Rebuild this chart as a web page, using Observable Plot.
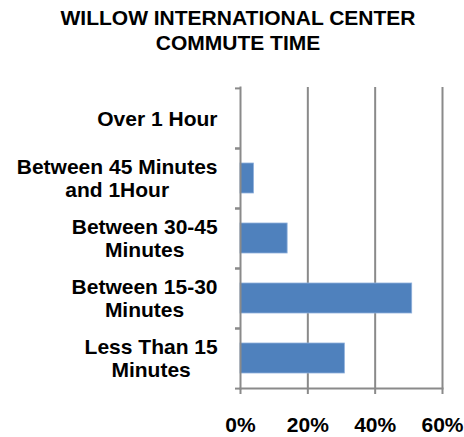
<!DOCTYPE html>
<html><head><meta charset="utf-8">
<script src="https://cdn.jsdelivr.net/npm/d3@7"></script>
<script src="https://cdn.jsdelivr.net/npm/@observablehq/plot@0.6"></script>
<style>
body{margin:0;background:#fff;font-family:"Liberation Sans",Arial,sans-serif;}
#title{height:60px;box-sizing:border-box;padding-top:5px;padding-left:12px;text-align:center;font-size:21px;font-weight:bold;line-height:25px;color:#000;}
#chart svg{display:block;}
</style></head><body>
<div id="title">WILLOW INTERNATIONAL CENTER<br>COMMUTE TIME</div>
<div id="chart"></div>
<script>
const categories = ["Over 1 Hour","Between 45 Minutes and 1Hour","Between 30-45 Minutes","Between 15-30 Minutes","Less Than 15 Minutes"];
const categoryLabels = ["Over 1 Hour","Between 45 Minutes\nand 1Hour","Between 30-45\nMinutes","Between 15-30\nMinutes","Less Than 15\nMinutes"];
const shares = [0,4,14,51,31];
const xTicks = [0,20,40,60];
const xTickLabels = ["0%","20%","40%","60%"];

const data = categories.map((c,i)=>({cat:c, value:shares[i]}));
const W = 464, H = 377, mT = 27, mB = 49, mL = 240, mR = 22;
const halfStep = (H - mT - mB) / categories.length / 2;
const gray = "#8a8a8a";
const font = {fontSize: 21, fontWeight: "bold", fill: "#000"};

const chart = Plot.plot({
  width: W, height: H,
  marginTop: mT, marginBottom: mB, marginLeft: mL, marginRight: mR,
  style: {fontFamily: '"Liberation Sans", Arial, sans-serif', background: "#fff"},
  x: {domain: [0, 60], label: null},
  y: {domain: categories, paddingInner: 0.5, paddingOuter: 0.25, label: null},
  marks: [
    Plot.gridX(xTicks.slice(1), {stroke: gray, strokeOpacity: 1, strokeWidth: 2}),
    Plot.barX(data, {x: "value", y: "cat", fill: "#4F81BD", stroke: "#8eb0db", strokeWidth: 0.8}),
    Plot.frame({anchor: "left", stroke: gray, strokeWidth: 2}),
    Plot.frame({anchor: "bottom", stroke: gray, strokeWidth: 2}),
    Plot.axisY({tickSize: 5, dy: -halfStep, text: null, label: null, stroke: gray, strokeWidth: 2}),
    Plot.axisY({tickSize: 5, dy: halfStep, text: null, label: null, stroke: gray, strokeWidth: 2}),
    Plot.axisY({tickSize: 0, tickPadding: 23, lineHeight: 1.1, label: null,
      tickFormat: d => categoryLabels[categories.indexOf(d)], ...font}),
    Plot.axisX(xTicks, {tickSize: 6, tickPadding: 23, stroke: gray, strokeWidth: 2, label: null,
      tickFormat: d => xTickLabels[xTicks.indexOf(d)], ...font})
  ]
});
document.getElementById("chart").appendChild(chart);

// center the lines of each multi-line category label within its right-aligned block
const multi = new Set(categoryLabels.filter(l => l.includes("\n")).map(l => l.replace(/\n/g, "")));
chart.querySelectorAll("text").forEach(t => {
  if (!multi.has(t.textContent)) return;
  const bb = t.getBBox();
  const center = bb.x + bb.width / 2;
  t.setAttribute("text-anchor", "middle");
  t.style.textAnchor = "middle";
  const spans = t.querySelectorAll("tspan");
  spans.forEach(s => s.setAttribute("x", center));
});
</script>
</body></html>
